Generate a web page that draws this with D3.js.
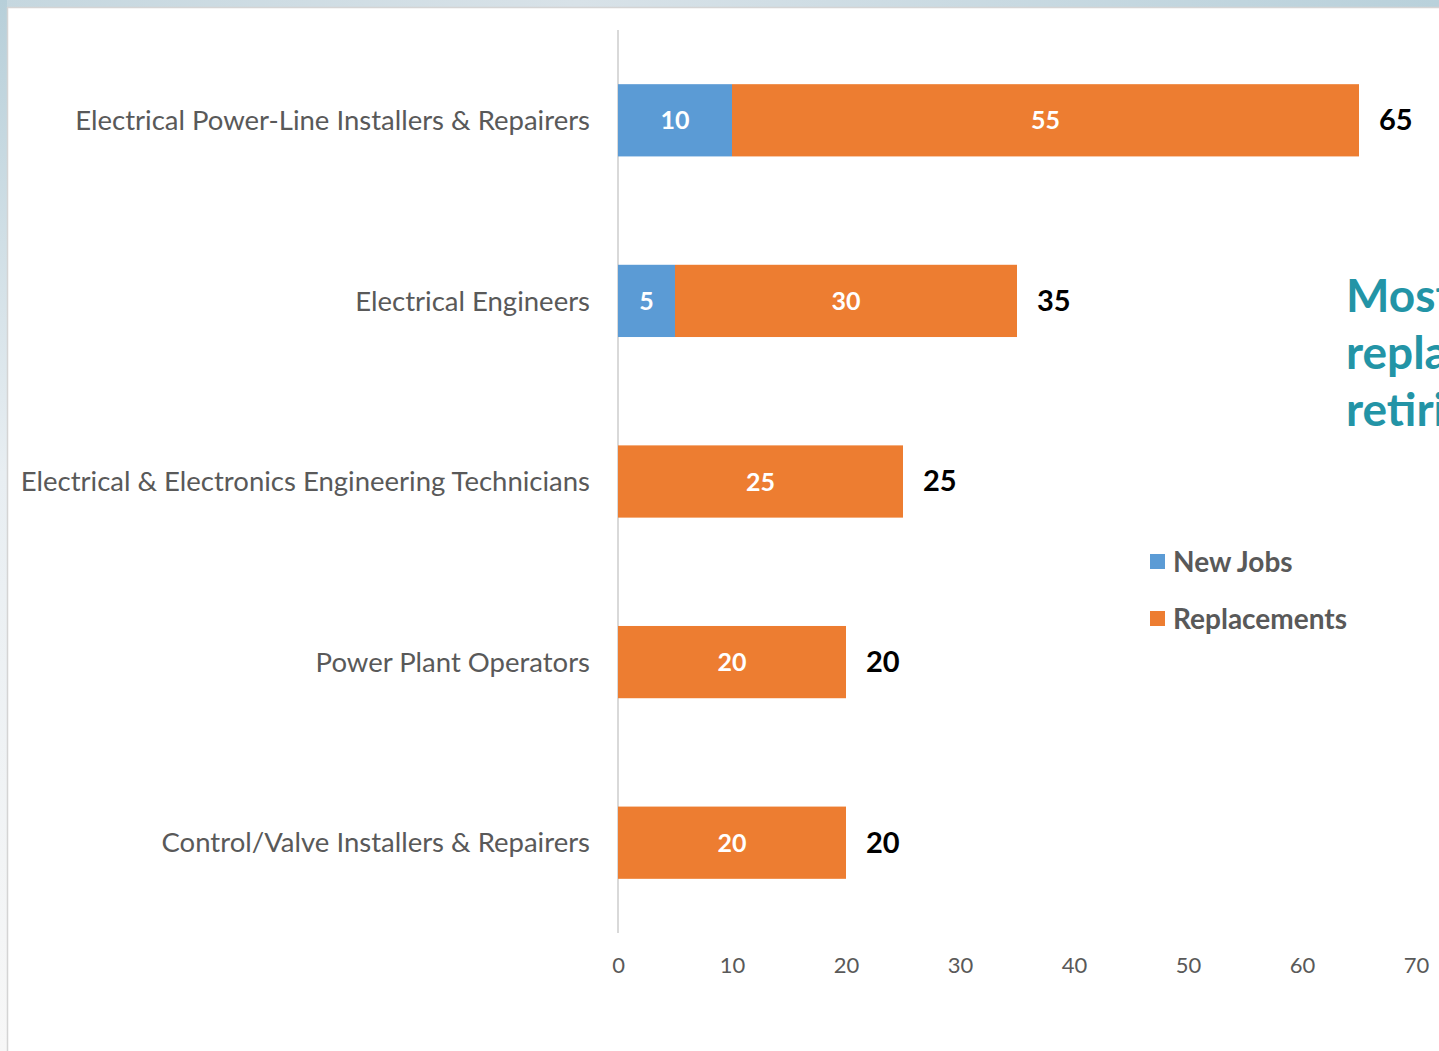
<!DOCTYPE html>
<html>
<head>
<meta charset="utf-8">
<script src="https://cdn.jsdelivr.net/npm/d3@7"></script>
<style>
  html, body { margin: 0; padding: 0; background: #fff; overflow: hidden; }
  svg { display: block; font-family: Lato, "Open Sans", sans-serif; }
  svg text { font-family: Lato, "Open Sans", sans-serif; }
</style>
</head>
<body>
<div id="chart"></div>
<script>
// Chart data
var categories = [
    'Electrical Power-Line Installers & Repairers',
    'Electrical Engineers',
    'Electrical & Electronics Engineering Technicians',
    'Power Plant Operators',
    'Control/Valve Installers & Repairers'
];
var newJobs = [10, 5, 0, 0, 0];
var replacements = [55, 30, 25, 20, 20];
var seriesNames = ['New Jobs', 'Replacements'];
var seriesColors = ['#5b9bd5', '#ed7d31'];
var xTicks = [0, 10, 20, 30, 40, 50, 60, 70];
var titleLines = ['Most job openings will be', 'replacements for', 'retiring workers'];

(function drawChart() {
    var W = 1439, H = 1051;
    var svg = d3.select('#chart').append('svg')
        .attr('width', W)
        .attr('height', H);

    // Slide frame: gradient bands on top and left
    var defs = svg.append('defs');
    var gTop = defs.append('linearGradient').attr('id', 'topBand')
        .attr('x1', '0%').attr('x2', '100%').attr('y1', '0%').attr('y2', '0%');
    gTop.append('stop').attr('offset', '0%').attr('stop-color', '#c5d7df');
    gTop.append('stop').attr('offset', '40%').attr('stop-color', '#d8e2e8');
    gTop.append('stop').attr('offset', '100%').attr('stop-color', '#b9d1db');
    var gLeft = defs.append('linearGradient').attr('id', 'leftBand')
        .attr('x1', '0%').attr('x2', '0%').attr('y1', '0%').attr('y2', '100%');
    gLeft.append('stop').attr('offset', '0%').attr('stop-color', '#b7cfd9');
    gLeft.append('stop').attr('offset', '45%').attr('stop-color', '#e8eef2');
    gLeft.append('stop').attr('offset', '100%').attr('stop-color', '#f7f7f7');

    svg.append('rect').attr('x', 0).attr('y', 0).attr('width', W).attr('height', 7)
        .attr('fill', 'url(#topBand)');
    svg.append('rect').attr('x', 0).attr('y', 0).attr('width', 7).attr('height', H)
        .attr('fill', 'url(#leftBand)');
    svg.append('line').attr('x1', 7).attr('x2', W).attr('y1', 7.5).attr('y2', 7.5)
        .attr('stroke', '#d4d4d4').attr('stroke-width', 1.5);
    svg.append('line').attr('x1', 7.5).attr('x2', 7.5).attr('y1', 7).attr('y2', H)
        .attr('stroke', '#d4d4d4').attr('stroke-width', 1.5);

    var data = categories.map(function(c, i) {
        return { cat: c, newJobs: newJobs[i], replacements: replacements[i] };
    });
    var stack = d3.stack().keys(['newJobs', 'replacements']);
    var stacked = stack(data);

    var x = d3.scaleLinear().domain([0, 70]).range([618, 1416]);
    var y = d3.scaleBand().domain(categories).range([30, 933])
        .paddingInner(0.6).paddingOuter(0.3);

    // Vertical category axis line
    svg.append('line')
        .attr('x1', x(0)).attr('x2', x(0))
        .attr('y1', 30).attr('y2', 933)
        .attr('stroke', '#d9d9d9').attr('stroke-width', 2);

    // x axis (labels only)
    var xAxis = d3.axisBottom(x).tickValues(xTicks).tickSize(0).tickPadding(0);
    var gx = svg.append('g')
        .attr('class', 'x axis')
        .attr('transform', 'translate(0,957)')
        .call(xAxis)
        .attr('font-family', null);
    gx.select('.domain').remove();
    gx.selectAll('.tick text')
        .attr('fill', '#595959')
        .style('font-size', '22px')
        .attr('dy', '0.71em');

    // y axis labels
    var yAxis = d3.axisLeft(y).tickSize(0).tickPadding(0);
    var gy = svg.append('g')
        .attr('class', 'y axis')
        .attr('transform', 'translate(590,0)')
        .call(yAxis)
        .attr('font-family', null);
    gy.select('.domain').remove();
    gy.selectAll('.tick text')
        .attr('fill', '#595959')
        .style('font-size', '27.5px')
        .attr('dy', '0.35em');

    // Bars
    var layers = svg.selectAll('g.layer').data(stacked).enter().append('g')
        .attr('class', 'layer')
        .attr('fill', function(d, i) { return seriesColors[i]; });

    layers.selectAll('rect').data(function(d) { return d; }).enter().append('rect')
        .attr('x', function(d) { return x(d[0]); })
        .attr('y', function(d) { return y(d.data.cat); })
        .attr('width', function(d) { return x(d[1]) - x(d[0]); })
        .attr('height', y.bandwidth());

    // Segment labels
    layers.selectAll('text').data(function(d) { return d.filter(function(s) { return s[1] > s[0]; }); })
        .enter().append('text')
        .attr('x', function(d) { return (x(d[0]) + x(d[1])) / 2; })
        .attr('y', function(d) { return y(d.data.cat) + y.bandwidth() / 2; })
        .attr('dy', '0.36em')
        .attr('text-anchor', 'middle')
        .attr('fill', '#ffffff')
        .style('font-size', '25px')
        .style('font-weight', 'bold')
        .text(function(d) { return d[1] - d[0]; });

    // Totals
    svg.append('g').attr('class', 'totals').selectAll('text').data(data).enter().append('text')
        .attr('x', function(d) { return x(d.newJobs + d.replacements) + 20; })
        .attr('y', function(d) { return y(d.cat) + y.bandwidth() / 2; })
        .attr('dy', '0.34em')
        .attr('fill', '#000000')
        .style('font-size', '29px')
        .style('font-weight', 'bold')
        .text(function(d) { return d.newJobs + d.replacements; });

    // Legend
    var legend = svg.append('g').attr('class', 'legend')
        .attr('transform', 'translate(1150,562)');
    var li = legend.selectAll('g').data(seriesNames).enter().append('g')
        .attr('transform', function(d, i) { return 'translate(0,' + (i * 57) + ')'; });
    li.append('rect').attr('x', 0).attr('y', -8).attr('width', 15).attr('height', 15)
        .attr('fill', function(d, i) { return seriesColors[i]; });
    li.append('text').attr('x', 23).attr('dy', '0.35em')
        .attr('fill', '#595959')
        .style('font-size', '28px')
        .style('font-weight', 'bold')
        .text(function(d) { return d; });

    // Title on the right (cut by slide edge, as in the original slide)
    svg.append('g').attr('class', 'title').selectAll('text').data(titleLines).enter().append('text')
        .attr('x', 1346)
        .attr('y', function(d, i) { return 312 + i * 57; })
        .attr('fill', '#2394a6')
        .style('font-size', '46px')
        .style('font-weight', 'bold')
        .text(function(d) { return d; });
})();
</script>
</body>
</html>
